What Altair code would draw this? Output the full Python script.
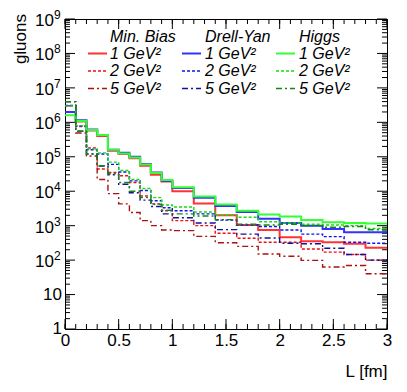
import altair as alt
import pandas as pd

# bin edges (fm)
edges = [0.0, 0.1, 0.2, 0.3, 0.4, 0.5, 0.6, 0.7, 0.8, 0.9, 1.0,
         1.2, 1.4, 1.6, 1.8, 2.0, 2.2, 2.4, 2.6, 2.8, 3.0]

mb_1 = [2.0e6, 1.05e6, 5.8e5, 4.0e5, 1.5e5, 1.2e5, 9.0e4, 5.5e4, 3.0e4, 1.9e4,
        1.0e4, 4.4e3, 2.0e3, 1.05e3, 7.5e2, 4.6e2, 3.5e2, 3.3e2, 3.0e2, 2.3e2]
mb_2 = [3.0e6, 7.5e5, 1.8e5, 4.4e4, 3.5e4, 2.8e4, 1.8e4, 7.3e3, 4.3e3, 2.7e3,
        1.4e3, 1.0e3, 6.0e2, 4.3e2, 3.3e2, 3.3e2, 2.1e2, 1.7e2, 1.45e2, 1.0e2]
mb_5 = [4.0e6, 4.9e5, 1.05e5, 2.2e4, 8.5e3, 4.3e3, 2.4e3, 1.4e3, 1.0e3, 7.5e2,
        7.2e2, 4.9e2, 3.2e2, 2.5e2, 1.5e2, 1.3e2, 98, 63, 70, 40]
dy_1 = [2.0e6, 1.15e6, 6.2e5, 4.3e5, 1.6e5, 1.3e5, 1.0e5, 6.2e4, 3.5e4, 2.0e4,
        1.25e4, 6.5e3, 3.7e3, 2.5e3, 1.6e3, 1.2e3, 1.0e3, 8.0e2, 6.4e2, 6.4e2]
dy_2 = [3.1e6, 7.8e5, 1.6e5, 1.2e5, 6.0e4, 3.6e4, 2.0e4, 1.05e4, 5.3e3, 3.3e3,
        2.7e3, 2.2e3, 1.45e3, 1.05e3, 9.5e2, 7.5e2, 5.7e2, 4.8e2, 3.3e2, 3.1e2]
dy_5 = [4.0e6, 5.5e5, 1.2e5, 5.4e4, 3.0e4, 1.6e4, 9.0e3, 5.5e3, 3.6e3, 2.2e3,
        1.7e3, 1.2e3, 7.7e2, 5.7e2, 4.4e2, 3.1e2, 3.0e2, 2.2e2, 1.45e2, 1.0e2]
h_1 = [1.6e6, 1.1e6, 6.0e5, 4.3e5, 1.6e5, 1.25e5, 9.5e4, 6.0e4, 3.4e4, 2.1e4,
       1.3e4, 7.0e3, 4.1e3, 2.7e3, 2.1e3, 1.85e3, 1.45e3, 1.25e3, 1.2e3, 1.15e3]
h_2 = [3.0e6, 8.0e5, 1.7e5, 1.3e5, 7.0e4, 4.0e4, 2.2e4, 1.2e4, 6.5e3, 4.0e3,
       3.5e3, 2.5e3, 2.0e3, 1.75e3, 1.3e3, 1.2e3, 1.1e3, 1.05e3, 1.0e3, 8.3e2]
h_5 = [4.0e6, 5.5e5, 1.2e5, 5.5e4, 3.2e4, 1.8e4, 1.0e4, 6.5e3, 4.2e3, 2.8e3,
       2.2e3, 1.9e3, 1.5e3, 1.1e3, 1.05e3, 1.1e3, 1.0e3, 9.0e2, 9.5e2, 7.6e2]

groups = ["Min. Bias", "Drell-Yan", "Higgs"]
scales_q2 = ["1 GeV\u00b2", "2 GeV\u00b2", "5 GeV\u00b2"]

# axis ticks / labels
x_major = [0, 0.5, 1, 1.5, 2, 2.5, 3]
x_minor = [round(i * 0.1, 1) for i in range(31)]
y_major = [10 ** d for d in range(10)]
y_minor = [k * 10 ** d for d in range(9) for k in range(2, 10)]
y_plain_vals = [1, 10]
y_plain_text = ["1", "10"]
y_pow_vals = [1e2, 1e3, 1e4, 1e5, 1e6, 1e7, 1e8, 1e9]
y_pow_exp = ["2", "3", "4", "5", "6", "7", "8", "9"]

W, H = 322, 310
FONT = "Liberation Sans"

xscale = alt.Scale(domain=[0, 3], nice=False, zero=False)
yscale = alt.Scale(type="log", domain=[1, 1e9], nice=False)

xaxis = alt.Axis(values=x_major, format="~g", ticks=False, domain=False, grid=False,
                 labelFont=FONT, labelFontSize=17, labelColor="black", labelPadding=3,
                 labelFlush=False,
                 title="L [fm]", titleFont=FONT, titleFontSize=17, titleFontWeight="normal",
                 titleColor="black", titleAnchor="end", titleY=47, titleBaseline="alphabetic")

layers = []

# ticks (inward, on all four sides)
def xticks(vals, length):
    df = pd.DataFrame({"L": vals})
    bot = alt.Chart(df).mark_rule(color="black", strokeWidth=1).encode(
        x=alt.X("L:Q", scale=xscale, axis=xaxis), y=alt.value(H), y2=alt.value(H - length))
    top = alt.Chart(df).mark_rule(color="black", strokeWidth=1).encode(
        x=alt.X("L:Q", scale=xscale, axis=xaxis), y=alt.value(0), y2=alt.value(length))
    return [bot, top]

def yticks(vals, length):
    df = pd.DataFrame({"n": vals})
    left = alt.Chart(df).mark_rule(color="black", strokeWidth=1).encode(
        y=alt.Y("n:Q", scale=yscale, axis=None), x=alt.value(0), x2=alt.value(length))
    right = alt.Chart(df).mark_rule(color="black", strokeWidth=1).encode(
        y=alt.Y("n:Q", scale=yscale, axis=None), x=alt.value(W), x2=alt.value(W - length))
    return [left, right]

layers += xticks(x_minor, 5) + xticks(x_major, 10)
layers += yticks(y_minor, 5) + yticks(y_major, 10)

# y tick labels with real superscripts
layers.append(alt.Chart(pd.DataFrame({"n": y_plain_vals, "t": y_plain_text})).mark_text(
    align="right", baseline="middle", font=FONT, fontSize=17, color="black").encode(
    y=alt.Y("n:Q", scale=yscale, axis=None), x=alt.value(-3), text="t:N"))
pow_df = pd.DataFrame({"n": y_pow_vals, "e": y_pow_exp})
layers.append(alt.Chart(pow_df).mark_text(
    align="right", baseline="middle", font=FONT, fontSize=17, color="black", dy=2).encode(
    y=alt.Y("n:Q", scale=yscale, axis=None), x=alt.value(-11), text=alt.value("10")))
layers.append(alt.Chart(pow_df).mark_text(
    align="left", baseline="middle", font=FONT, fontSize=12, color="black", dy=-4).encode(
    y=alt.Y("n:Q", scale=yscale, axis=None), x=alt.value(-11), text="e:N"))

# y title
layers.append(alt.Chart(pd.DataFrame({"t": ["gluons"]})).mark_text(
    align="right", baseline="middle", angle=270, font=FONT, fontSize=17, color="black").encode(
    x=alt.value(-44), y=alt.value(-5), text="t:N"))

series = [
    (mb_1, "#ff3333", None, 2.0),
    (mb_2, "#ee1111", [3, 2], 1.4),
    (mb_5, "#aa1111", [6, 3, 2, 3], 1.4),
    (dy_1, "#3333ff", None, 2.0),
    (dy_2, "#1111ee", [3, 2], 1.4),
    (dy_5, "#111199", [6, 3, 2, 3], 1.4),
    (h_1, "#33ff33", None, 2.0),
    (h_2, "#11dd11", [3, 2], 1.4),
    (h_5, "#118811", [6, 3, 2, 3], 1.4),
]

for vals, col, dash, sw in series:
    df = pd.DataFrame({"L": edges, "n": list(vals) + [vals[-1]]})
    kw = dict(color=col, strokeWidth=sw, interpolate="step-after", clip=True)
    if dash:
        kw["strokeDash"] = dash
    layers.append(alt.Chart(df).mark_line(**kw).encode(
        x=alt.X("L:Q", scale=xscale, axis=xaxis),
        y=alt.Y("n:Q", scale=yscale, axis=None)))

# legend
one = pd.DataFrame({"a": [0]})
line_x = [23, 117, 211]
text_x = [45, 140, 234]
head_y = 18
row_y = [34.5, 52, 69.5]
for g in range(3):
    layers.append(alt.Chart(one).mark_text(
        align="left", baseline="middle", font=FONT, fontStyle="italic", fontSize=16,
        color="black").encode(x=alt.value(text_x[g]), y=alt.value(head_y),
                              text=alt.value(groups[g])))
    for r in range(3):
        vals, col, dash, sw = series[g * 3 + r]
        kw = dict(color=col, strokeWidth=sw)
        if dash:
            kw["strokeDash"] = dash
        layers.append(alt.Chart(one).mark_rule(**kw).encode(
            x=alt.value(line_x[g]), x2=alt.value(line_x[g] + 19), y=alt.value(row_y[r])))
        layers.append(alt.Chart(one).mark_text(
            align="left", baseline="middle", font=FONT, fontStyle="italic", fontSize=16,
            color="black").encode(x=alt.value(text_x[g]), y=alt.value(row_y[r]),
                                  text=alt.value(scales_q2[r])))

chart = alt.layer(*layers).properties(
    width=W, height=H,
    autosize=alt.AutoSizeParams(type="none"),
    padding={"left": 57, "top": 11, "right": 12, "bottom": 55},
    background="white",
).configure_view(stroke="black", strokeWidth=1)

chart.save("out.html", embed_options={"renderer": "svg", "actions": False})
